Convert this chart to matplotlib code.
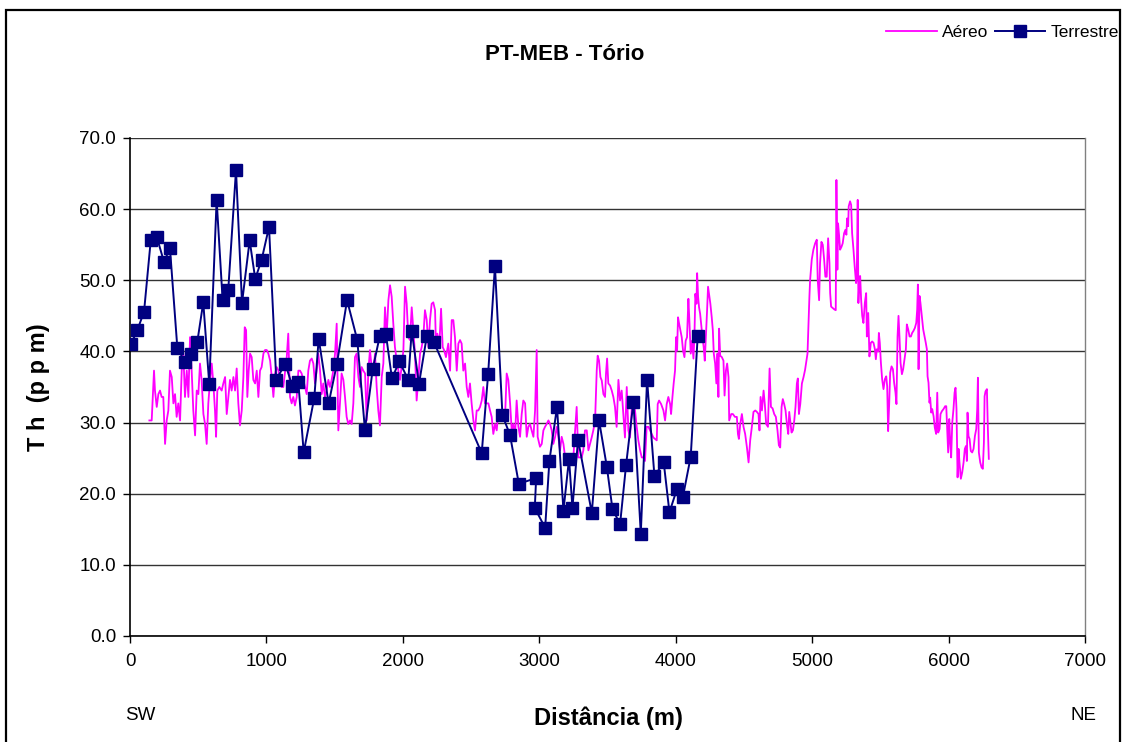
import matplotlib
matplotlib.use("Agg")
import matplotlib.pyplot as plt
from matplotlib.patches import Rectangle

plt.rcParams['font.family'] = ['Liberation Sans', 'DejaVu Sans']

# ---------------- data ----------------
aereo_dist = [142, 159, 176, 183, 196, 208, 220, 232, 244, 257, 269, 281, 293, 306, 318, 330, 342, 354, 367, 379,
              391, 403, 416, 428, 440, 452, 464, 477, 489, 501, 513, 525, 538, 550, 562, 574, 587, 599, 611, 623,
              631, 640, 655, 672, 684, 697, 709, 721, 733, 745, 758, 770, 782, 794, 806, 819, 831, 841, 851, 860,
              870, 880, 892, 904, 917, 929, 941, 953, 965, 978, 990, 1002, 1014, 1027, 1039, 1051, 1063, 1075, 1088, 1100,
              1112, 1124, 1149,
              1160, 1173, 1185, 1197, 1209, 1222, 1234, 1246, 1258, 1270, 1283, 1295, 1307, 1319, 1332, 1344, 1356, 1368, 1380, 1393,
              1405, 1417, 1429, 1441, 1454, 1466, 1478, 1490, 1503, 1515, 1527, 1539, 1551, 1564, 1576, 1588, 1600, 1613, 1625, 1637,
              1649, 1661, 1674, 1686, 1698, 1710, 1723, 1735, 1747, 1759, 1771, 1784, 1796, 1808, 1820, 1832, 1845, 1857, 1869, 1881,
              1894, 1906, 1918, 1930, 1942, 1955, 1967, 1979, 1991, 2004, 2016, 2028, 2040, 2052, 2065, 2077, 2089, 2101, 2113, 2126,
              2138, 2150, 2162, 2175, 2187,
              2199, 2211, 2223, 2236, 2243, 2253, 2267, 2280, 2292, 2302, 2316, 2333, 2346, 2358, 2370, 2382, 2395, 2407, 2419, 2431,
              2443, 2456, 2468, 2480, 2492, 2504, 2517, 2529, 2541, 2553, 2566, 2578, 2590, 2602, 2614, 2627, 2639, 2651, 2663, 2676,
              2688, 2700, 2712, 2725, 2737, 2749, 2761, 2773, 2786, 2798, 2810, 2822, 2834, 2847, 2859, 2871, 2883, 2896, 2908, 2920,
              2932, 2944, 2957, 2969, 2981, 2988, 3005, 3018, 3030, 3042, 3054, 3067, 3079, 3091, 3103, 3116, 3128, 3140, 3152, 3164,
              3177, 3189, 3201, 3213, 3225, 3250,
              3274, 3286, 3299, 3311, 3323, 3335, 3348, 3360, 3372, 3384, 3396, 3409, 3421, 3428, 3438, 3448, 3458, 3470, 3482, 3489,
              3497, 3506, 3519, 3531, 3543, 3555, 3567, 3580, 3592, 3604, 3616, 3628, 3641, 3653, 3665, 3677, 3690, 3702, 3714, 3726,
              3739, 3751, 3763, 3775, 3787, 3800, 3812, 3824, 3836, 3848, 3861, 3868, 3878, 3893, 3910, 3922, 3934, 3946, 3959, 3966,
              3976, 3985, 3995, 4003, 4010, 4017, 4025, 4034, 4044, 4054, 4064, 4073, 4083, 4093, 4100, 4110, 4120, 4130, 4137, 4144,
              4152, 4157, 4164, 4171, 4179, 4186, 4196, 4205, 4213, 4220, 4230, 4237, 4247, 4254, 4264, 4272, 4279, 4289, 4298, 4306,
              4313, 4318,
              4326, 4338, 4350, 4358, 4368, 4377, 4387, 4392, 4407, 4419, 4434, 4448, 4456, 4463, 4473, 4485, 4497, 4509, 4522, 4534,
              4546, 4558, 4570, 4583, 4595, 4607, 4614, 4622, 4632, 4644, 4653, 4663, 4676, 4688, 4698, 4710, 4722, 4734, 4746, 4756,
              4766, 4776, 4785, 4795, 4805, 4815, 4825, 4832, 4839, 4849, 4859, 4869, 4878, 4888, 4895, 4903, 4913, 4925, 4937,
              4948, 4966, 4973, 4980, 4985, 4997, 5009, 5022, 5034, 5041, 5051, 5058, 5068, 5078, 5088, 5097, 5107, 5117, 5127, 5132,
              5139, 5151, 5163, 5173, 5178, 5185, 5190, 5198, 5205, 5215, 5224, 5234, 5244, 5251, 5256, 5264, 5268, 5278, 5286, 5293,
              5303, 5312, 5322, 5327, 5334, 5339, 5347,
              5352, 5359, 5367, 5376, 5386, 5396, 5401, 5411, 5420, 5430, 5440, 5450, 5460, 5467, 5474, 5484, 5489, 5496, 5504, 5513,
              5523, 5533, 5543, 5550, 5557, 5565, 5572, 5582, 5592, 5601, 5611, 5618, 5626, 5633, 5640, 5648, 5658, 5667, 5677, 5687,
              5694, 5704, 5714, 5724, 5733, 5743, 5753, 5763, 5770, 5775, 5780, 5787, 5794, 5804, 5814, 5824, 5833, 5841, 5846, 5853,
              5860, 5865, 5873, 5880, 5890, 5899, 5909, 5917, 5924, 5934, 5941, 5951, 5963, 5975, 5983, 5990, 5997, 6005, 6012, 6019,
              6027, 6036, 6044, 6051, 6058, 6066, 6073, 6080, 6090, 6100, 6110, 6119, 6127, 6134, 6139, 6146, 6154, 6163, 6173, 6183,
              6193, 6203, 6210, 6215, 6222, 6232, 6242, 6251, 6259, 6264, 6271, 6281, 6288, 6295]

aereo_th = [30.3, 30.3, 37.3, 34.5, 32.2, 34.0, 34.5, 33.6, 33.6, 27.0, 30.3, 31.7, 37.3, 36.4, 32.7, 34.0, 30.8, 32.7, 30.3, 37.3,
            39.7, 33.6, 37.3, 33.6, 42.0, 37.3, 31.7, 28.2, 34.5, 34.0, 38.3, 36.0, 31.2, 29.8, 27.0, 32.7, 36.0, 38.3, 35.5, 31.7,
            28.0, 34.5, 35.0, 34.5, 35.5, 36.4, 31.2, 33.6, 36.0, 34.5, 36.4, 34.5, 37.6, 32.7, 29.6, 31.7, 36.4, 43.4, 43.0, 33.6,
            37.3, 39.7, 39.2, 36.0, 35.5, 37.3, 33.6, 37.3, 37.8, 39.7, 40.2, 40.2, 39.7, 38.7, 36.4, 33.6, 36.9, 37.8, 37.3, 35.5,
            35.0, 35.0, 39.2,
            42.5, 33.6, 32.7, 33.6, 32.4, 33.6, 37.3, 37.3, 36.9, 36.0, 35.0, 34.0, 37.3, 38.7, 39.0, 38.3, 35.5, 37.3, 39.7, 37.3,
            34.0, 35.5, 33.6, 34.5, 36.0, 35.0, 36.0, 37.3, 39.7, 43.9, 28.9, 32.7, 36.9, 36.0, 33.6, 30.8, 29.8, 30.3, 29.8, 32.7,
            39.2, 39.7, 36.4, 35.0, 37.8, 37.3, 36.9, 30.3, 37.3, 40.2, 37.8, 37.3, 39.7, 35.0, 31.7, 29.6, 36.4, 38.3, 46.2, 42.0,
            47.2, 49.3, 47.7, 43.9, 40.6, 38.7, 37.3, 36.0, 37.8, 40.2, 49.1, 46.7, 42.0, 41.6, 46.2, 43.0, 39.7, 33.1, 36.0, 39.7,
            40.6, 42.0, 45.8, 44.4, 40.6,
            44.4, 46.7, 46.9, 45.8, 40.6, 42.5, 40.6, 46.0, 40.6, 40.2, 39.2, 41.1, 37.3, 44.4, 44.4, 42.0, 37.3, 41.1, 41.6, 41.1,
            37.3, 38.3, 35.0, 33.6, 35.5, 32.7, 30.3, 28.9, 31.7, 31.7, 32.2, 33.1, 35.0, 32.7, 32.7, 32.7, 31.7, 30.8, 28.4, 29.8,
            28.9, 31.7, 30.8, 30.3, 31.7, 30.8, 36.9, 36.0, 32.7, 28.9, 29.8, 28.0, 33.1, 29.4, 28.0, 31.2, 33.1, 32.7, 28.0, 29.4,
            29.8, 28.9, 28.0, 31.7, 40.2, 28.0, 26.6, 27.0, 28.9, 29.4, 29.8, 30.3, 29.8, 28.9, 27.0, 28.0, 29.4, 28.0, 26.1, 28.0,
            27.0, 25.2, 24.7, 25.2, 24.7, 25.2,
            32.2, 25.1, 25.1, 25.1, 26.1, 28.9, 28.9, 26.1, 27.0, 27.9, 28.9, 30.3, 37.3, 39.4, 38.7, 36.4, 35.9, 34.0, 33.6, 36.9,
            39.0, 35.5, 35.2, 34.5, 33.6, 32.2, 29.4, 36.0, 33.1, 34.5, 31.2, 27.9, 35.0, 28.9, 27.9, 31.7, 33.6, 31.7, 29.4, 27.5,
            26.1, 25.1, 25.1, 24.6, 29.4, 29.4, 28.9, 28.4, 27.9, 27.7, 27.5, 32.6, 33.1, 32.6, 31.7, 30.3, 32.6, 33.6, 32.6, 31.2,
            33.6, 35.5, 37.3, 42.0, 40.1, 44.8, 43.9, 43.0, 42.0, 40.1, 39.2, 41.5, 42.0, 47.4, 44.4, 39.7, 41.5, 39.0, 42.0, 48.1,
            46.7, 51.0, 47.7, 46.2, 45.3, 43.9, 42.0, 40.6, 38.7, 41.5, 45.8, 49.1, 47.7, 46.7, 44.8, 43.0, 39.7, 38.3, 35.5, 39.7,
            33.6, 43.2,
            39.4, 39.2, 38.7, 33.8, 37.3, 38.3, 36.4, 30.3, 31.2, 31.2, 30.8, 30.8, 28.4, 27.7, 29.8, 31.2, 29.4, 28.4, 26.5, 24.4,
            27.5, 29.4, 31.5, 31.7, 31.5, 31.2, 28.9, 33.6, 31.7, 34.5, 32.6, 29.8, 29.4, 37.6, 32.2, 32.0, 31.2, 30.8, 28.9, 26.8,
            26.5, 32.2, 33.3, 32.6, 31.7, 29.8, 28.4, 31.5, 30.3, 28.6, 28.9, 30.3, 32.2, 35.5, 36.2, 31.2, 32.6, 35.5, 36.4,
            37.4, 39.7, 43.9, 47.7, 50.0, 52.9, 54.3, 55.2, 55.7, 50.0, 47.2, 52.4, 55.4, 55.0, 52.9, 50.5, 50.5, 55.9, 52.4, 48.2,
            46.3, 46.1, 45.9, 45.8, 64.1, 51.5, 58.0, 56.2, 54.3, 54.7, 55.2, 56.6, 57.1, 56.4, 58.7, 57.6, 60.4, 61.1, 60.6, 56.6,
            54.3, 51.9, 49.6, 50.5, 61.3, 46.8, 50.5,
            50.6, 47.3, 45.0, 44.0, 46.8, 48.2, 42.1, 45.4, 39.3, 41.2, 41.4, 41.2, 40.3, 38.9, 40.3, 40.0, 42.6, 41.2, 38.4, 36.1,
            34.7, 36.1, 36.5, 35.1, 28.8, 32.8, 37.0, 37.9, 37.5, 35.6, 34.2, 32.6, 42.1, 45.0, 42.1, 38.4, 36.8, 37.5, 38.9, 40.3,
            43.8, 43.1, 42.1, 42.1, 42.6, 42.9, 43.3, 44.0, 45.9, 49.4, 37.5, 47.8, 46.8, 45.0, 43.1, 42.1, 41.2, 40.3, 36.5, 35.6,
            32.8, 33.5, 31.4, 31.9, 30.9, 29.3, 28.4, 34.2, 28.6, 29.1, 31.2, 31.6, 31.9, 32.3, 32.3, 29.1, 25.8, 30.5, 27.2, 25.1,
            30.0, 31.9, 34.2, 34.9, 31.9, 22.3, 26.3, 24.4, 22.1, 23.0, 24.4, 26.3, 26.7, 24.6, 31.4, 28.1, 27.7, 26.0, 25.8, 26.3,
            28.1, 29.1, 31.9, 36.3, 25.8, 24.4, 23.7, 23.5, 27.2, 33.7, 34.4, 34.7, 29.1, 24.9]

terrestre_dist = [7, 54, 103, 152, 196, 249, 293, 347, 403, 445, 493, 537, 581, 635, 679, 720, 777, 821, 877, 918,
                  965, 1019, 1072, 1138, 1190, 1234, 1273, 1351, 1383, 1456, 1517, 1591, 1666, 1722, 1779, 1830, 1876, 1920, 1974, 2040,
                  2065, 2118, 2175, 2228, 2578, 2625, 2675, 2730, 2785, 2850, 2977, 2967, 3043, 3074, 3130, 3177, 3218, 3243, 3284, 3385,
                  3438, 3495, 3536, 3592, 3636, 3690, 3744, 3790, 3844, 3912, 3954, 4010, 4052, 4110, 4161]
terrestre_th = [41.0, 43.0, 45.6, 55.6, 56.1, 52.6, 54.5, 40.5, 38.5, 39.7, 41.3, 46.9, 35.4, 61.3, 47.2, 48.6, 65.5, 46.8, 55.6, 50.2,
                52.9, 57.5, 36.0, 38.3, 35.1, 35.7, 25.8, 33.5, 41.8, 32.7, 38.3, 47.2, 41.6, 29.0, 37.5, 42.1, 42.4, 36.2, 38.6, 36.0,
                42.9, 35.4, 42.1, 41.3, 25.7, 36.8, 52.0, 31.0, 28.3, 21.4, 22.2, 18.0, 15.2, 24.6, 32.2, 17.6, 24.9, 18.0, 27.6, 17.3,
                30.3, 23.8, 17.9, 15.7, 24.0, 32.9, 14.4, 36.0, 22.5, 24.4, 17.4, 20.7, 19.5, 25.2, 42.1]

y_ticks = [0, 10, 20, 30, 40, 50, 60, 70]
x_ticks = [0, 1000, 2000, 3000, 4000, 5000, 6000, 7000]

title = "PT-MEB - Tório"
x_label = "Distância (m)"
y_label = "T h  (p p m)"

# ---------------- figure ----------------
W, H = 1129, 742
fig = plt.figure(figsize=(W / 100, H / 100), dpi=100)
fig.patch.set_facecolor("white")

# outer chart border
fig.add_artist(Rectangle((6 / W, -0.02), (1120 - 6) / W, 1.02 - 10 / H,
                         transform=fig.transFigure, fill=False, edgecolor="black", linewidth=1.6))

ax = fig.add_axes([130 / W, (H - 636) / H, 955 / W, 498 / H])
ax.set_xlim(0, 7000)
ax.set_ylim(0, 70)

ax.yaxis.grid(True, color="#333333", linewidth=1.0)
ax.set_axisbelow(True)

ax.plot(aereo_dist, aereo_th, color="#FF00FF", linewidth=1.3, label="Aéreo", zorder=3)
ax.plot(terrestre_dist, terrestre_th, color="#000080", linewidth=1.4, marker="s",
        markersize=9, markerfacecolor="#000080", markeredgecolor="#000080", label="Terrestre", zorder=4)

ax.set_xticks(x_ticks)
ax.set_xticklabels([str(v) for v in x_ticks])
ax.set_yticks(y_ticks)
ax.set_yticklabels([f"{v:.1f}" for v in y_ticks])
ax.tick_params(axis="both", direction="out", length=5, width=1, colors="black", labelsize=13.5, pad=5)
ax.tick_params(axis="x", pad=7)

for s in ("left", "bottom"):
    ax.spines[s].set_color("black")
    ax.spines[s].set_linewidth(1.2)
ax.spines["right"].set_color("#808080")
ax.spines["right"].set_linewidth(1.0)
ax.spines["top"].set_visible(False)

# texts
fig.text(565 / W, 1 - 55 / H, title, ha="center", va="center", fontsize=16, fontweight="bold")
fig.text(608 / W, 1 - 718 / H, x_label, ha="center", va="center", fontsize=17, fontweight="bold")
fig.text(38 / W, 1 - 387 / H, y_label, ha="center", va="center", fontsize=17, fontweight="bold", rotation=90)
fig.text(140 / W, 1 - 715 / H, "SW", ha="center", va="center", fontsize=13.5)
fig.text(1083 / W, 1 - 715 / H, "NE", ha="center", va="center", fontsize=13.5)

leg = fig.legend(loc="center right", bbox_to_anchor=(1119 / W, 1 - 32 / H), ncol=2, frameon=False,
                 fontsize=12.5, handlelength=2.9, handletextpad=0.3, columnspacing=0.4, borderaxespad=0.0,
                 borderpad=0.0)

fig.savefig("out.png", dpi=100)
